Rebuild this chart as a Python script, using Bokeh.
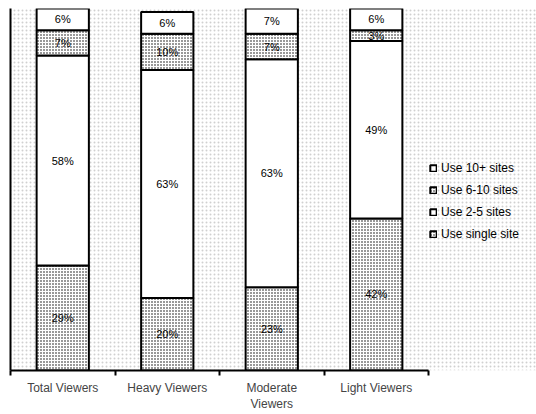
from bokeh.plotting import figure
from bokeh.models import FixedTicker, Legend, LegendItem, ColumnDataSource
from bokeh.core.properties import value
from bokeh.embed import file_html
from bokeh.resources import INLINE

# Share of viewers by number of sites used
categories = ["Total Viewers", "Heavy Viewers", "Moderate\nViewers", "Light Viewers"]
single_site = [29, 20, 23, 42]
sites_2_5 = [58, 63, 63, 49]
sites_6_10 = [7, 10, 7, 3]
sites_10_plus = [6, 6, 7, 6]

series = [
    ("Use single site", single_site, "dot"),
    ("Use 2-5 sites", sites_2_5, " "),
    ("Use 6-10 sites", sites_6_10, "dot"),
    ("Use 10+ sites", sites_10_plus, " "),
]

FONT = "Liberation Sans"
xs = [i + 0.5 for i in range(len(categories))]
n_cat = len(categories)

# frame spans the whole width to the right; the axis itself stops after the last category
W, H = 536, 414
LEFT, TOP, BOTTOM = 10, 8, 43
unit_px = 104.5
x_end = (W - LEFT) / unit_px

p = figure(width=W, height=H, output_backend="svg", toolbar_location=None,
           x_range=(0, x_end), y_range=(0, 100),
           min_border_left=LEFT, min_border_right=0,
           min_border_top=TOP, min_border_bottom=BOTTOM)
p.outline_line_color = None
p.grid.visible = False
p.background_fill_color = "white"
p.border_fill_color = "white"

# faint stippled backdrop behind the bars
p.quad(left=0, right=x_end, bottom=0, top=100, fill_color="white", line_color=None,
       hatch_pattern="dot", hatch_color="#d0d0d0", hatch_scale=4, hatch_weight=1)

bottoms = [0] * n_cat
renderers = {}
for name, vals, hatch in series:
    tops = [b + v for b, v in zip(bottoms, vals)]
    src = ColumnDataSource(dict(x=xs, bottom=bottoms, top=tops,
                                mid=[(b + t) / 2 for b, t in zip(bottoms, tops)],
                                label=[f"{v}%" for v in vals]))
    r = p.vbar(x="x", bottom="bottom", top="top", width=0.5, source=src,
               fill_color="white", line_color="black", line_width=2,
               hatch_pattern=hatch, hatch_color="black", hatch_scale=3,
               hatch_weight=1)
    renderers[name] = r
    p.text(x="x", y="mid", text="label", source=src, text_align="center",
           text_baseline="middle", text_font=value(FONT),
           text_font_size="11px", text_color="black")
    bottoms = tops

# x axis: labels under the bars, tick marks between categories
p.xaxis.bounds = (0, n_cat)
p.xaxis.ticker = FixedTicker(ticks=xs, minor_ticks=list(range(n_cat + 1)))
p.xaxis.major_label_overrides = {x: c for x, c in zip(xs, categories)}
p.xaxis.major_tick_out = 0
p.xaxis.major_tick_in = 0
p.xaxis.minor_tick_out = 5
p.xaxis.minor_tick_in = 0
p.xaxis.minor_tick_line_width = 2
p.xaxis.axis_line_width = 2
p.xaxis.major_label_text_font = FONT
p.xaxis.major_label_text_font_size = "12px"
p.xaxis.major_label_standoff = 5

# y axis: a plain line
p.yaxis.ticker = FixedTicker(ticks=[])
p.yaxis.major_label_text_font_size = "0px"
p.yaxis.axis_line_width = 2
p.yaxis.major_tick_out = 0
p.yaxis.minor_tick_out = 0

order = ["Use 10+ sites", "Use 6-10 sites", "Use 2-5 sites", "Use single site"]
legend = Legend(items=[LegendItem(label=n, renderers=[renderers[n]]) for n in order],
                location=(419, 129), padding=0, margin=0, spacing=8,
                glyph_width=8, glyph_height=8, label_height=14, label_standoff=4,
                label_text_font=FONT, label_text_font_size="12px",
                label_text_color="black",
                background_fill_alpha=0, border_line_color=None)
p.add_layout(legend, "center")

open("out.html", "w").write(file_html(p, INLINE))
